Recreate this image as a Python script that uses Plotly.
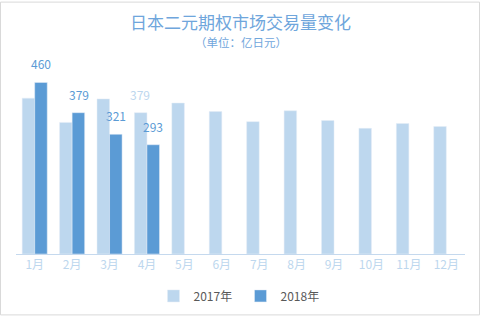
import plotly.graph_objects as go

months = ["1月", "2月", "3月", "4月", "5月", "6月", "7月", "8月", "9月", "10月", "11月", "12月"]
vol_2017 = [418, 353, 416, 379, 405, 382, 355, 384, 358, 337, 350, 342]
vol_2018 = [460, 379, 321, 293]
labeled_2017 = ["4月"]

LIGHT = "#BDD7EE"
DARK = "#5B9BD5"
FONT = "Noto Sans CJK SC"

# plot area in pixels
PLOT_TOP, PLOT_BOTTOM = 63, 259
PLOT_H = PLOT_BOTTOM - PLOT_TOP


def py(pixel_y):
    """Convert a pixel row to paper coordinates."""
    return (PLOT_BOTTOM - pixel_y) / PLOT_H


fig = go.Figure()
fig.add_trace(go.Bar(name="2017年", x=months, y=vol_2017, marker_color=LIGHT))
fig.add_trace(go.Bar(name="2018年", x=months[:len(vol_2018)], y=vol_2018, marker_color=DARK))

# value labels above the bars
annotations = []
for m, v in zip(months, vol_2017):
    if m in labeled_2017:
        annotations.append(dict(x=m, y=v, xref="x", yref="y", text=str(v), showarrow=False,
                                xshift=-6.5, yshift=8, yanchor="bottom",
                                font=dict(family=FONT, size=12, color=LIGHT)))
for m, v in zip(months, vol_2018):
    annotations.append(dict(x=m, y=v, xref="x", yref="y", text=str(v), showarrow=False,
                            xshift=6.5, yshift=8, yanchor="bottom",
                            font=dict(family=FONT, size=12, color=DARK)))

# title and unit line
annotations.append(dict(x=0.5, y=py(20), xref="paper", yref="paper", yanchor="middle",
                        text="日本二元期权市场交易量变化", showarrow=False,
                        font=dict(family=FONT, size=17, color="#6FA6DC")))
annotations.append(dict(x=0.5, y=py(41), xref="paper", yref="paper", yanchor="middle",
                        text="（单位：亿日元）", showarrow=False,
                        font=dict(family=FONT, size=11.5, color="#6FA6DC")))

fig.update_layout(
    width=480, height=322,
    margin=dict(l=16, r=15, t=PLOT_TOP, b=322 - PLOT_BOTTOM),
    paper_bgcolor="white", plot_bgcolor="white",
    barmode="group", bargap=0.33, bargroupgap=0,
    font=dict(family=FONT),
    showlegend=True,
    legend=dict(orientation="h", x=0.5, xanchor="center", y=py(302), yanchor="middle",
                font=dict(family=FONT, size=12, color="#595959"),
                itemwidth=30, entrywidth=42, entrywidthmode="pixels", tracegroupgap=0),
    annotations=annotations,
    shapes=[dict(type="rect", xref="paper", yref="paper",
                 x0=(0.5 - 16) / 449, x1=(479.5 - 16) / 449,
                 y0=py(321.5), y1=py(0.5),
                 line=dict(color="#D9D9D9", width=1), fillcolor="rgba(0,0,0,0)", layer="below")],
)
fig.update_xaxes(showline=True, linecolor="#C5D9EE", linewidth=1, ticks="",
                 tickfont=dict(family=FONT, size=12, color="#BDD7EE"),
                 showgrid=False, fixedrange=True)
fig.update_yaxes(range=[0, 460 * PLOT_H / 176], visible=False, showgrid=False, fixedrange=True)

fig.write_html("out.html", config={"displayModeBar": False})
